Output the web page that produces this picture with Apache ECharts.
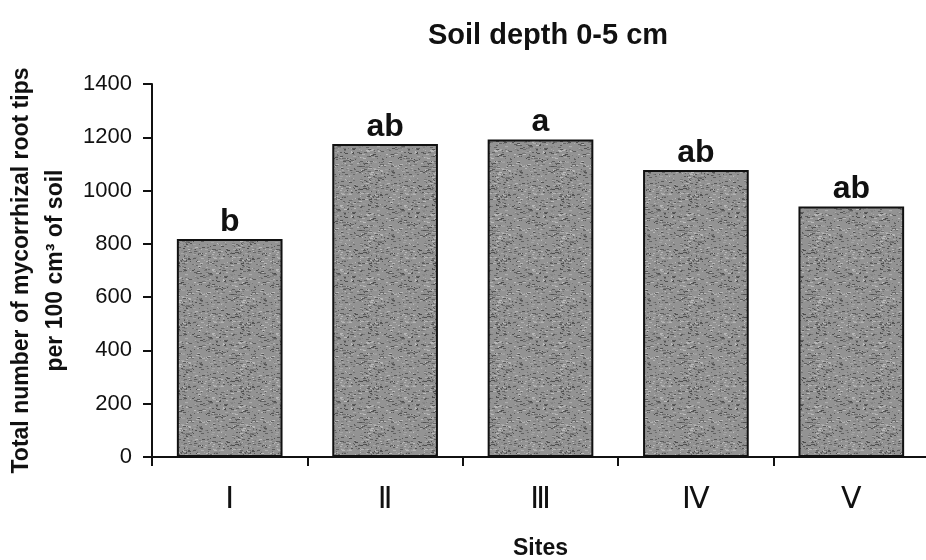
<!DOCTYPE html>
<html>
<head>
<meta charset="utf-8">
<title>Soil depth 0-5 cm</title>
<script src="https://cdn.jsdelivr.net/npm/echarts@6/dist/echarts.min.js"></script>
<style>
  html, body { margin: 0; padding: 0; background: #fff; }
  #main { width: 926px; height: 560px; }
</style>
</head>
<body>
<div id="main"></div>
<script>
// data
var sites = ['Ⅰ', 'Ⅱ', 'Ⅲ', 'Ⅳ', 'Ⅴ'];
var rootTips = [818, 1175, 1192, 1077, 940];
var letters = ['b', 'ab', 'a', 'ab', 'ab'];
var yTicks = [0, 200, 400, 600, 800, 1000, 1200, 1400];

// speckled grey fill, like the printed stipple
function stipple() {
  var c = document.createElement('canvas');
  c.width = 64; c.height = 64;
  var ctx = c.getContext('2d');
  ctx.fillStyle = '#939393';
  ctx.fillRect(0, 0, 64, 64);
  var s = 12345;
  function rnd() { s = (s * 1103515245 + 12345) % 2147483648; return s / 2147483648; }
  for (var i = 0; i < 800; i++) {
    var g = Math.floor(75 + rnd() * 115);
    ctx.fillStyle = 'rgb(' + g + ',' + g + ',' + g + ')';
    ctx.fillRect(Math.floor(rnd() * 64), Math.floor(rnd() * 64), 1 + Math.floor(rnd() * 3), 1);
  }
  return c;
}

var myChart = echarts.init(document.getElementById('main'));

var option = {
  backgroundColor: '#fff',
  animation: false,
  title: {
    text: 'Soil depth 0-5 cm',
    left: 543,
    top: 16,
    textAlign: 'center',
    textStyle: { fontFamily: 'Liberation Sans, Arial', fontWeight: 'bold', fontSize: 29, color: '#111' }
  },
  grid: { left: 152, right: -3, top: 84, bottom: 103, containLabel: false, outerBoundsMode: 'none' },
  xAxis: {
    type: 'category',
    data: sites,
    name: 'Sites',
    nameLocation: 'middle',
    nameGap: 80,
    nameTextStyle: { fontFamily: 'Liberation Sans, Arial', fontWeight: 'bold', fontSize: 23, color: '#111' },
    axisLine: { lineStyle: { color: '#111', width: 2 } },
    axisTick: { show: true, length: 9, lineStyle: { color: '#111', width: 2 } },
    axisLabel: { fontFamily: 'DejaVu Sans', fontSize: 30, color: '#111', margin: 28 }
  },
  yAxis: {
    type: 'value',
    min: yTicks[0],
    max: yTicks[yTicks.length - 1],
    interval: yTicks[1] - yTicks[0],
    name: 'Total number of mycorrhizal root tips\nper 100 cm³ of soil',
    nameLocation: 'middle',
    nameGap: 71,
    nameTextStyle: { fontFamily: 'Liberation Sans, Arial', fontWeight: 'bold', fontSize: 23, lineHeight: 34, color: '#111' },
    splitLine: { show: false },
    axisLine: { show: true, lineStyle: { color: '#111', width: 2 } },
    axisTick: { show: true, length: 9, lineStyle: { color: '#111', width: 2 } },
    axisLabel: {
      fontFamily: 'Liberation Sans, Arial', fontSize: 22, color: '#111', margin: 20,
      formatter: function (v) { return String(v); }
    }
  },
  series: [{
    type: 'bar',
    data: rootTips,
    barCategoryGap: '32%',
    itemStyle: {
      color: { image: stipple(), repeat: 'repeat' },
      borderColor: '#111',
      borderWidth: 2
    },
    label: {
      show: true,
      position: 'top',
      distance: 1,
      formatter: function (p) { return letters[p.dataIndex]; },
      fontFamily: 'Liberation Sans, Arial',
      fontWeight: 'bold',
      fontSize: 32,
      color: '#111'
    }
  }]
};

option && myChart.setOption(option);
</script>
</body>
</html>
